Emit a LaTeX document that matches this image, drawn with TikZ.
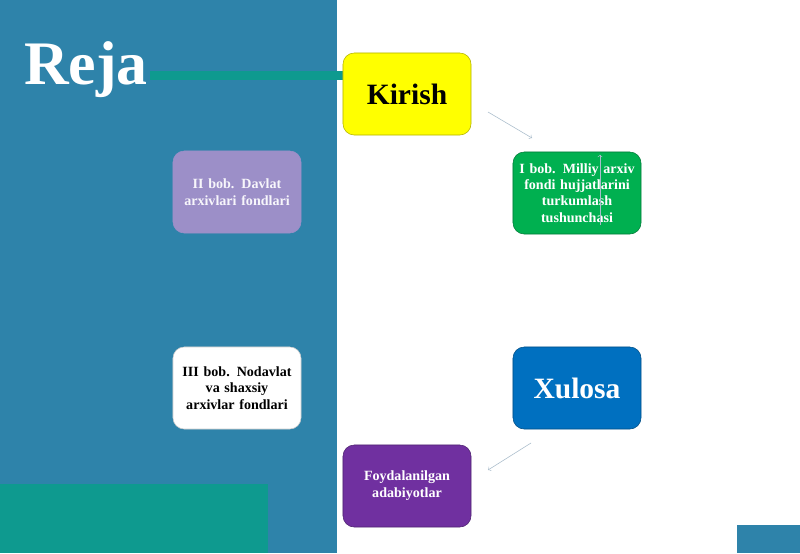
\documentclass[tikz,border=0pt]{standalone}
\usepackage{fontspec}
\setmainfont{Liberation Serif}
\usetikzlibrary{positioning}
\definecolor{panelblue}{HTML}{2E83AA}
\definecolor{tealbar}{HTML}{0E9A8F}
\definecolor{kyellow}{HTML}{FFFF00}
\definecolor{kgreen}{HTML}{00B050}
\definecolor{kblue}{HTML}{0070C0}
\definecolor{kpurple}{HTML}{7030A0}
\definecolor{klavender}{HTML}{9C8FC8}
\definecolor{arrowgray}{HTML}{A9BCCB}
\tikzset{
  boxx/.style={rounded corners=8pt, draw=#1!70!black, fill=#1, minimum width=3.2cm,
    minimum height=2.05cm, text width=2.9cm, align=center, font=\bfseries\fontsize{10}{12}\selectfont, text=white},
  link/.style={->, draw=arrowgray, thin}
}
\begin{document}
\begin{tikzpicture}[x=0.025cm,y=-0.025cm]
            \useasboundingbox (0,0) rectangle (800,553);
            \fill[white] (0,0) rectangle (800,553);
            \fill[panelblue] (0,0) rectangle (337,553);
            \fill[tealbar] (0,484) rectangle (268,553);
            \fill[panelblue] (737,525) rectangle (800,553);
            \fill[tealbar] (150,71) rectangle (343,80);
            \node[text=white, font=\bfseries\fontsize{44}{48}\selectfont] (title) at (86,70) {Reja};

            \node[boxx=kyellow, text=black, font=\bfseries\fontsize{21}{24}\selectfont] (kirish) at (407,94) {Kirish};
            \node[boxx=kgreen, font=\bfseries\fontsize{10}{11.6}\selectfont] (bob1) at (577,193) {I bob. Milliy arxiv fondi hujjatlarini turkumlash tushunchasi};
            \node[boxx=kblue, text=white, font=\bfseries\fontsize{21}{24}\selectfont] (xulosa) at (577,388) {Xulosa};
            \node[boxx=kpurple] (adab) at (407,486) {Foydalanilgan adabiyotlar};
            \node[boxx=klavender, draw=klavender, text=white!92!klavender] (bob2) at (237,192) {II bob. Davlat arxivlari fondlari};
            \node[boxx=white, draw=white!80!black, text=black, font=\bfseries\fontsize{10}{11.6}\selectfont] (bob3) at (237,388) {III bob. Nodavlat va shaxsiy arxivlar fondlari};

            \draw[link] (488,112) -- (532,138);
            \draw[link] ([yshift=-22\pgflinewidth]bob1.south) ++(23,-22) -- ++(0,-70);
            \draw[link] (531,443) -- (488,470);
\end{tikzpicture}
\end{document}
